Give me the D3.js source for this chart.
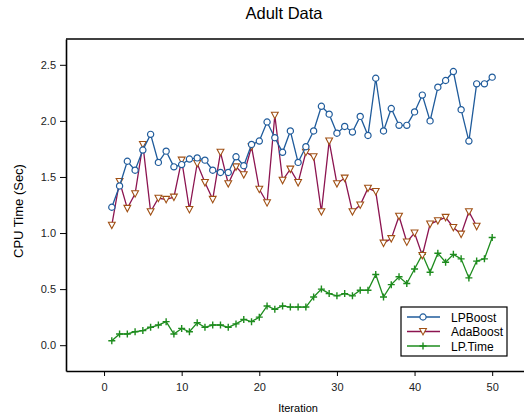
<!DOCTYPE html>
<html>
<head>
<meta charset="utf-8">
<script src="https://cdn.jsdelivr.net/npm/d3@7"></script>
<style>
  body { margin: 0; background: #fff; }
  text { font-family: "Liberation Sans", Arial, sans-serif; }
</style>
</head>
<body>
<svg id="chart" width="524" height="419"></svg>
<script>
// values
const iterations = d3.range(1, 51);
const seriesNames = ["LPBoost", "AdaBoost", "LP.Time"];

const lpBoost = [1.23, 1.42, 1.64, 1.56, 1.74, 1.88, 1.63, 1.73, 1.59, 1.61,
  1.66, 1.67, 1.65, 1.56, 1.54, 1.54, 1.68, 1.60, 1.79, 1.82,
  1.99, 1.85, 1.72, 1.91, 1.63, 1.77, 1.91, 2.13, 2.06, 1.89,
  1.95, 1.90, 2.04, 1.87, 2.38, 1.91, 2.11, 1.96, 1.96, 2.08,
  2.23, 2.00, 2.30, 2.36, 2.44, 2.10, 1.82, 2.33, 2.33, 2.39];

const adaBoost = [1.07, 1.46, 1.22, 1.35, 1.79, 1.19, 1.31, 1.30, 1.32, 1.65,
  1.21, 1.62, 1.45, 1.30, 1.72, 1.44, 1.59, 1.52, 1.77, 1.39,
  1.27, 2.05, 1.47, 1.57, 1.45, 1.72, 1.68, 1.19, 1.82, 1.44,
  1.49, 1.19, 1.25, 1.40, 1.37, 0.91, 0.95, 1.15, 0.92, 1.00,
  0.80, 1.08, 1.11, 1.14, 1.05, 0.99, 1.19, 1.06];

const lpTime = [0.04, 0.10, 0.10, 0.12, 0.13, 0.16, 0.18, 0.21, 0.10, 0.15,
  0.12, 0.20, 0.16, 0.18, 0.18, 0.16, 0.19, 0.23, 0.21, 0.25,
  0.35, 0.32, 0.35, 0.34, 0.34, 0.34, 0.43, 0.50, 0.46, 0.44,
  0.46, 0.44, 0.49, 0.49, 0.63, 0.43, 0.54, 0.61, 0.55, 0.68,
  0.81, 0.65, 0.82, 0.74, 0.81, 0.77, 0.60, 0.75, 0.77, 0.96];

const xTicks = [0, 10, 20, 30, 40, 50];
const yTicks = [0.0, 0.5, 1.0, 1.5, 2.0, 2.5];

const svg = d3.select("#chart");
const margin = { top: 39, left: 66, bottom: 48 };
const plotRight = 531;
const plotBottom = 419 - margin.bottom;

const x = d3.scaleLinear().domain([-4.9, 55]).range([margin.left, plotRight]);
const y = d3.scaleLinear().domain([-0.23, 2.73]).range([plotBottom, margin.top]);

const colours = {
  LPBoost: { line: "#1f5b9b", marker: "#1f5b9b" },
  AdaBoost: { line: "#8c1450", marker: "#a05014" },
  "LP.Time": { line: "#1e8c1e", marker: "#1e8c1e" }
};

// title
svg.append("text")
  .attr("x", 284).attr("y", 19)
  .attr("text-anchor", "middle")
  .attr("font-size", 16.5)
  .text("Adult Data");

// axes
const yAxis = svg.append("g")
  .attr("transform", `translate(${margin.left},0)`)
  .call(d3.axisLeft(y).tickValues(yTicks).tickFormat(d3.format(".1f")).tickSize(6).tickSizeOuter(0));

const xAxis = svg.append("g")
  .attr("transform", `translate(0,${plotBottom})`)
  .call(d3.axisBottom(x).tickValues(xTicks).tickSize(5).tickSizeOuter(0));

[yAxis, xAxis].forEach(g => {
  g.select(".domain").attr("stroke", "#000").attr("stroke-width", 1.6);
  g.selectAll(".tick line").attr("stroke", "#000").attr("stroke-width", 1);
  g.selectAll(".tick text").attr("font-size", 11).attr("fill", "#222")
    .style("font-family", "'Liberation Sans', Arial, sans-serif");
});
yAxis.selectAll(".tick text").attr("x", -10);
xAxis.selectAll(".tick text").attr("y", 12);

// top frame line
svg.append("line")
  .attr("x1", margin.left).attr("x2", plotRight)
  .attr("y1", margin.top).attr("y2", margin.top)
  .attr("stroke", "#000").attr("stroke-width", 1.6);

// axis titles
svg.append("text")
  .attr("x", 298).attr("y", 412)
  .attr("text-anchor", "middle")
  .attr("font-size", 11)
  .text("Iteration");

svg.append("text")
  .attr("transform", "translate(23,211) rotate(-90)")
  .attr("text-anchor", "middle")
  .attr("font-size", 13)
  .text("CPU Time (Sec)");

// markers
function drawMarker(g, name) {
  const c = colours[name].marker;
  if (name === "LPBoost") {
    g.append("circle").attr("r", 3.1)
      .attr("fill", "#fff").attr("stroke", c).attr("stroke-width", 1.2);
  } else if (name === "AdaBoost") {
    g.append("path")
      .attr("d", "M-3.4,-3 L3.4,-3 L0,3.4 Z")
      .attr("fill", "#fff").attr("stroke", c).attr("stroke-width", 1.1);
  } else {
    g.append("path")
      .attr("d", "M-3.5,0 L3.5,0 M0,-3.5 L0,3.5")
      .attr("stroke", c).attr("stroke-width", 1.4).attr("fill", "none");
  }
}

const seriesData = [
  { name: "LPBoost", values: lpBoost },
  { name: "AdaBoost", values: adaBoost },
  { name: "LP.Time", values: lpTime }
];

const line = d3.line()
  .x((d, i) => x(iterations[i]))
  .y(d => y(d));

const seriesG = svg.append("g").attr("class", "series");

// draw lines in reverse so LPBoost sits on top
seriesData.slice().reverse().forEach(s => {
  const g = seriesG.append("g");
  g.append("path")
    .datum(s.values)
    .attr("fill", "none")
    .attr("stroke", colours[s.name].line)
    .attr("stroke-width", 1.3)
    .attr("d", line);

  g.selectAll("g.pt").data(s.values).join("g")
    .attr("class", "pt")
    .attr("transform", (d, i) => `translate(${x(iterations[i])},${y(d)})`)
    .each(function () { drawMarker(d3.select(this), s.name); });
});

// legend
const legend = svg.append("g").attr("transform", "translate(401,307)");
legend.append("rect")
  .attr("width", 106).attr("height", 49)
  .attr("fill", "#fff").attr("stroke", "#000").attr("stroke-width", 1.2);

seriesNames.forEach((name, i) => {
  const row = legend.append("g").attr("transform", `translate(0,${10 + i * 14.5})`);
  row.append("line")
    .attr("x1", 6).attr("x2", 39)
    .attr("stroke", colours[name].line).attr("stroke-width", 1.6);
  const m = row.append("g").attr("transform", "translate(22,0)");
  drawMarker(m, name);
  row.append("text")
    .attr("x", 50).attr("y", 4.5)
    .attr("font-size", 12)
    .text(name);
});
</script>
</body>
</html>
